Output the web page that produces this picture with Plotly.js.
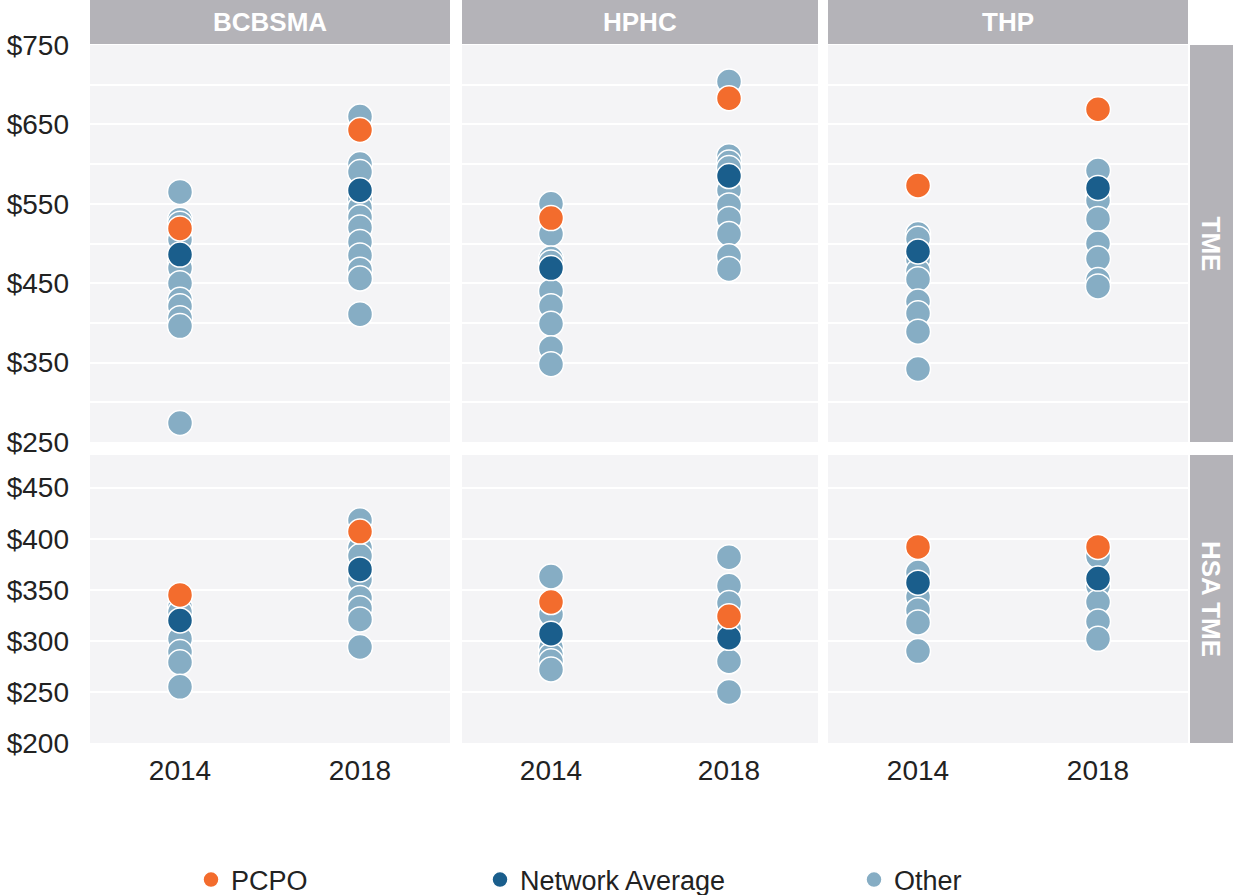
<!DOCTYPE html>
<html>
<head>
<meta charset="utf-8">
<script src="https://cdn.plot.ly/plotly-3.0.1.min.js"></script>
<style>
  html, body { margin: 0; padding: 0; background: #fff; width: 1233px; height: 895px; overflow: hidden; }
  #chart { width: 1233px; height: 895px; overflow: hidden; }
</style>
</head>
<body>
<div id="chart"></div>
<script>
// ── Data ───────────────────────────────────────────────────────────────────────

const years = ["2014", "2018"];
const plans = ["BCBSMA", "HPHC", "THP"];
const measures = ["TME", "HSA TME"];

// one entry per plan: [2014, 2018]
const tmePcpo    = [[519, 643], [532, 683], [573, 669]];
const tmeNetwork = [[486, 567], [469, 585], [490, 570]];
const tmeOther2014 = [
  [565, 530, 525, 505, 477, 469, 450, 429, 421, 406, 396, 274],
  [550, 512, 481, 476, 440, 421, 399, 368, 348],
  [512, 506, 480, 465, 455, 427, 412, 389, 342],
];
const tmeOther2018 = [
  [660, 600, 590, 556, 545, 533, 520, 502, 485, 467, 456, 411],
  [704, 610, 602, 595, 567, 548, 531, 512, 484, 468],
  [592, 560, 554, 531, 500, 481, 454, 446],
];

const hsaPcpo    = [[345, 407], [338, 324], [392, 392]];
const hsaNetwork = [[320, 370], [307, 303], [357, 361]];
const hsaOther2014 = [
  [333, 328, 302, 289, 279, 255],
  [363, 326, 293, 286, 280, 272],
  [367, 343, 330, 318, 290],
];
const hsaOther2018 = [
  [418, 391, 383, 360, 342, 332, 321, 294],
  [382, 354, 337, 312, 280, 250],
  [383, 354, 338, 319, 302],
];

const tmeTicks    = [250, 300, 350, 400, 450, 500, 550, 600, 650, 700, 750];
const tmeTickText = ["$250", "", "$350", "", "$450", "", "$550", "", "$650", "", "$750"];
const hsaTicks    = [200, 250, 300, 350, 400, 450];
const hsaTickText = ["$200", "$250", "$300", "$350", "$400", "$450"];

// ── Style ──────────────────────────────────────────────────────────────────────

const COLORS = { PCPO: "#f36c2d", "Network Average": "#1a5e8c", Other: "#86adc4" };
const STRIP = "#b4b3b8";
const PANEL = "#f4f4f6";
const FONT = "Liberation Sans, Arial, sans-serif";

const W = 1233, H = 895;
const px = v => v / W;
const py = v => 1 - v / H;

const cols = [[90, 450], [462, 818], [828, 1188]];
const rows = [[45, 442], [455, 743]];

// ── Build traces ───────────────────────────────────────────────────────────────

const rowData = [
  { pcpo: tmePcpo, net: tmeNetwork, o14: tmeOther2014, o18: tmeOther2018, ticks: tmeTicks, text: tmeTickText, range: [250, 750] },
  { pcpo: hsaPcpo, net: hsaNetwork, o14: hsaOther2014, o18: hsaOther2018, ticks: hsaTicks, text: hsaTickText, range: [200, 482] },
];

const traces = [];
const layout = {
  width: W,
  height: H,
  // fixed margins: the bottom legend must not shrink the panels
  margin: { t: 0, r: 0, b: 0, l: 0, autoexpand: false },
  paper_bgcolor: "#ffffff",
  plot_bgcolor: PANEL,
  font: { family: FONT, color: "#222222", size: 27 },
  showlegend: true,
  hovermode: false,
  shapes: [],
  annotations: [],
};

function marker(color) {
  return { size: 25, color, line: { color: "#ffffff", width: 1.5 } };
}

rowData.forEach((rd, r) => {
  plans.forEach((plan, c) => {
    const n = r * 3 + c + 1;
    const sfx = n === 1 ? "" : String(n);
    const first = n === 1;

    const ox = [], oy = [];
    rd.o14[c].forEach(v => { ox.push(years[0]); oy.push(v); });
    rd.o18[c].forEach(v => { ox.push(years[1]); oy.push(v); });

    traces.push({
      type: "scatter", mode: "markers", name: "Other",
      x: ox, y: oy, xaxis: "x" + sfx, yaxis: "y" + sfx,
      marker: marker(COLORS.Other),
      showlegend: first, legend: "legend3",
    });
    traces.push({
      type: "scatter", mode: "markers", name: "Network Average",
      x: years, y: rd.net[c], xaxis: "x" + sfx, yaxis: "y" + sfx,
      marker: marker(COLORS["Network Average"]),
      showlegend: first, legend: "legend2",
    });
    traces.push({
      type: "scatter", mode: "markers", name: "PCPO",
      x: years, y: rd.pcpo[c], xaxis: "x" + sfx, yaxis: "y" + sfx,
      marker: marker(COLORS.PCPO),
      showlegend: first, legend: "legend",
    });

    layout["xaxis" + sfx] = {
      domain: [px(cols[c][0]), px(cols[c][1])],
      anchor: "y" + sfx,
      type: "category",
      categoryarray: years,
      range: [-0.5, 1.5],
      showgrid: false, zeroline: false, showline: false, ticks: "",
      showticklabels: r === 1,
      ticklabelstandoff: 8,
      tickfont: { size: 28, color: "#222222", family: FONT },
      fixedrange: true,
    };
    layout["yaxis" + sfx] = {
      domain: [py(rows[r][1]), py(rows[r][0])],
      anchor: "x" + sfx,
      range: rd.range,
      tickvals: rd.ticks,
      ticktext: rd.text,
      showgrid: true, gridcolor: "#ffffff", gridwidth: 2,
      zeroline: false, showline: false, ticks: "",
      showticklabels: c === 0,
      ticklabelstandoff: 20,
      tickfont: { size: 28, color: "#222222", family: FONT },
      fixedrange: true,
    };
  });
});

// ── Facet strips ───────────────────────────────────────────────────────────────

plans.forEach((plan, c) => {
  layout.shapes.push({
    type: "rect", xref: "paper", yref: "paper", layer: "below",
    x0: px(cols[c][0]), x1: px(cols[c][1]), y0: py(44), y1: py(0),
    fillcolor: STRIP, line: { width: 0 },
  });
  layout.annotations.push({
    xref: "paper", yref: "paper", showarrow: false,
    x: px((cols[c][0] + cols[c][1]) / 2), y: py(22),
    xanchor: "center", yanchor: "middle",
    text: "<b>" + plan + "</b>",
    font: { size: 26, color: "#ffffff", family: FONT },
  });
});

measures.forEach((m, r) => {
  layout.shapes.push({
    type: "rect", xref: "paper", yref: "paper", layer: "below",
    x0: px(1190), x1: px(1240), y0: py(rows[r][1]), y1: py(rows[r][0]),
    fillcolor: STRIP, line: { width: 0 },
  });
  layout.annotations.push({
    xref: "paper", yref: "paper", showarrow: false,
    x: px(1211), y: py((rows[r][0] + rows[r][1]) / 2),
    xanchor: "center", yanchor: "middle",
    textangle: 90,
    text: "<b>" + m + "</b>",
    font: { size: 26, color: "#ffffff", family: FONT },
  });
});

// ── Legends (one per item so each sits where the reference puts it) ───────────

const legendBase = {
  orientation: "h", yanchor: "middle", xanchor: "left",
  y: py(880), bgcolor: "rgba(0,0,0,0)",
  font: { size: 27, color: "#222222", family: FONT },
  itemclick: false, itemdoubleclick: false,
};
layout.legend  = Object.assign({}, legendBase, { x: px(211 - 20) });
layout.legend2 = Object.assign({}, legendBase, { x: px(500 - 20) });
layout.legend3 = Object.assign({}, legendBase, { x: px(874 - 20) });

Plotly.newPlot("chart", traces, layout, { displayModeBar: false, staticPlot: true });
</script>
</body>
</html>
